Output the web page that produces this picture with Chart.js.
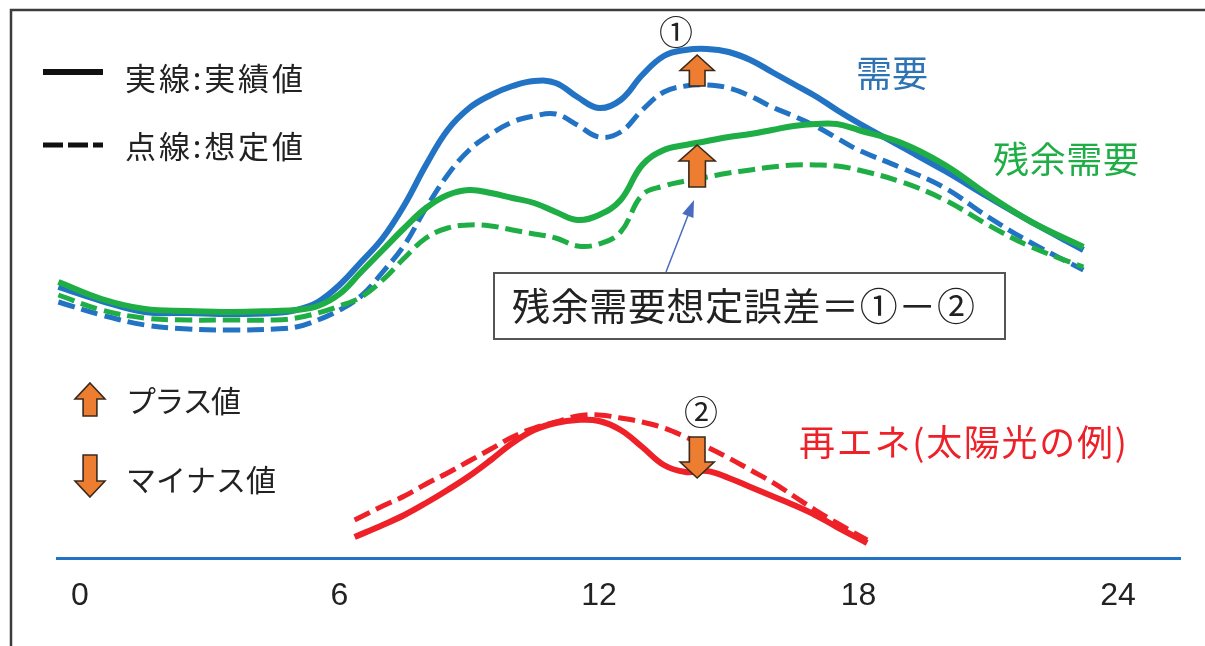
<!DOCTYPE html>
<html>
<head>
<meta charset="utf-8">
<script src="https://cdn.jsdelivr.net/npm/chart.js@4/dist/chart.umd.min.js"></script>
<style>
  html, body { margin: 0; padding: 0; background: #fff; }
  canvas { display: block; }
</style>
</head>
<body>
<canvas id="chart" width="1205" height="646"></canvas>
<script>
// hour of day (x) and relative load (y)
const demandHours = [-0.5, 0.5, 1.5, 2.5, 3.5, 4.5, 5, 5.5, 6, 6.5, 7, 7.5, 8, 8.5, 9, 9.5, 10, 10.5, 11, 11.5, 12, 12.5, 13, 13.5, 14, 14.5, 15, 15.5, 16, 16.5, 17, 17.5, 18, 19, 20, 21, 22, 23.2];
const demandActual = [271, 257, 246, 245, 244, 245, 248, 256, 273, 296, 320, 353, 393, 428, 450, 463, 472, 477, 475, 461, 450, 458, 483, 502, 508, 509, 506, 498, 486, 474, 462, 448, 435, 411, 387, 361, 336, 308];
const demandForecast = [256, 243, 233, 229, 228, 229, 231, 238, 248, 262, 286, 313, 350, 383, 408, 424, 436, 442, 444, 433, 421, 426, 448, 466, 472, 473, 470, 462, 451, 442, 432, 420, 408, 390, 370, 341, 315, 288];
const residualActual = [276, 259, 249, 247, 246, 247, 248, 252, 264, 286, 308, 330, 350, 363, 368, 365, 360, 355, 346, 338, 343, 358, 393, 408, 413, 417, 421, 424, 428, 432, 434, 434, 428, 415, 393, 363, 336, 311];
const residualForecast = [263, 248, 240, 238, 238, 238, 240, 245, 252, 261, 278, 300, 320, 330, 333, 332, 328, 324, 320, 312, 314, 326, 363, 372, 377, 381, 385, 388, 391, 393, 393, 392, 388, 376, 358, 333, 311, 291];

const solarHours = [6.35, 7, 7.5, 8, 8.5, 9, 9.5, 10, 10.5, 11, 11.5, 12, 12.5, 13, 13.5, 14, 14.5, 15, 15.5, 16, 16.5, 17, 17.5, 18.2];
const solarActual = [21, 33, 43, 55, 68, 82, 98, 115, 128, 135, 138, 137, 128, 111, 93, 86, 87, 80, 71, 62, 53, 43, 31, 15];
const solarForecast = [38, 52, 62, 74, 85, 97, 109, 121, 130, 136, 142, 143, 140, 136, 130, 121, 111, 100, 88, 76, 62, 48, 35, 18];

const xTickHours = [0, 6, 12, 18, 24];

// where the error arrows sit (hour, from value, to value)
const errorHour = 14.27;
const demandErr = [472, 503];
const residualErr = [371, 413];
const solarErr = [121, 80];

const BLUE = "#2273c4";
const GREEN = "#1fae45";
const RED = "#ee2129";
const ORANGE = "#ed7d31";
const JP = "'Noto Sans CJK JP', 'Noto Sans', sans-serif";

const pts = (xs, ys) => xs.map((x, i) => ({ x, y: ys[i] }));

function line(label, xs, ys, color, dashed, order) {
  return {
    label,
    data: pts(xs, ys),
    borderColor: color,
    borderWidth: dashed ? 5 : 6,
    borderDash: dashed ? [17, 7] : [],
    borderCapStyle: "butt",
    pointRadius: 0,
    tension: 0.4,
    fill: false,
    order,
  };
}

// orange block arrow, from yBase to yTip
function blockArrow(ctx, cx, yBase, yTip, w) {
  const dir = yTip < yBase ? 1 : -1;
  const head = Math.min(16, Math.abs(yBase - yTip) * 0.5);
  const sw = w * 0.46;
  const yNeck = yTip + dir * head;
  ctx.beginPath();
  ctx.moveTo(cx, yTip);
  ctx.lineTo(cx + w / 2, yNeck);
  ctx.lineTo(cx + sw / 2, yNeck);
  ctx.lineTo(cx + sw / 2, yBase);
  ctx.lineTo(cx - sw / 2, yBase);
  ctx.lineTo(cx - sw / 2, yNeck);
  ctx.lineTo(cx - w / 2, yNeck);
  ctx.closePath();
  ctx.fillStyle = ORANGE;
  ctx.fill();
  ctx.lineWidth = 1.6;
  ctx.strokeStyle = "#3b2a1c";
  ctx.lineJoin = "miter";
  ctx.stroke();
}

function text(ctx, str, x, y, size, color, width, align) {
  ctx.save();
  ctx.font = size + "px " + JP;
  ctx.fillStyle = color;
  ctx.textBaseline = "middle";
  ctx.textAlign = "left";
  if (width) {
    const w = ctx.measureText(str).width;
    const ls = (width - w) / Math.max(1, [...str].length - 1);
    ctx.letterSpacing = ls + "px";
  }
  const w2 = ctx.measureText(str).width;
  const left = align === "center" ? x - w2 / 2 : x;
  ctx.fillText(str, left, y);
  ctx.restore();
}

const decorations = {
  id: "decorations",
  beforeDraw(chart) {
    const ctx = chart.ctx;
    ctx.save();
    ctx.fillStyle = "#fff";
    ctx.fillRect(0, 0, chart.width, chart.height);
    ctx.restore();
  },
  afterDraw(chart) {
    const ctx = chart.ctx;
    const xs = chart.scales.x, ys = chart.scales.y;
    ctx.save();

    // outer frame
    ctx.strokeStyle = "#3c3c3c";
    ctx.lineWidth = 2.5;
    ctx.beginPath();
    ctx.moveTo(11, 646);
    ctx.lineTo(11, 10);
    ctx.lineTo(1205, 10);
    ctx.stroke();

    // legend lines
    ctx.strokeStyle = "#111";
    ctx.lineWidth = 6;
    ctx.beginPath();
    ctx.moveTo(43, 72); ctx.lineTo(103, 72);
    ctx.stroke();
    ctx.setLineDash([20, 5]);
    ctx.lineWidth = 5;
    ctx.beginPath();
    ctx.moveTo(43, 145); ctx.lineTo(103, 145);
    ctx.stroke();
    ctx.setLineDash([]);

    text(ctx, "実線:実績値", 125, 78, 31, "#222", 178);
    text(ctx, "点線:想定値", 125, 146, 31, "#222", 178);

    text(ctx, "需要", 856, 73, 36, "#2e74b5", 72);
    text(ctx, "残余需要", 993, 159, 36, GREEN, 146);
    text(ctx, "再エネ(太陽光の例)", 799, 442, 36, RED, 328);

    // bottom-left arrow legend
    blockArrow(ctx, 90, 416, 383, 30);
    text(ctx, "プラス値", 126, 401, 30, "#222", 115);
    blockArrow(ctx, 90, 455, 497, 30);
    text(ctx, "マイナス値", 126, 480, 30, "#222", 150);

    // error arrows
    const ax = xs.getPixelForValue(errorHour);
    blockArrow(ctx, ax, ys.getPixelForValue(demandErr[0]), ys.getPixelForValue(demandErr[1]), 34);
    blockArrow(ctx, ax, ys.getPixelForValue(residualErr[0]), ys.getPixelForValue(residualErr[1]), 36);
    blockArrow(ctx, ax, ys.getPixelForValue(solarErr[0]), ys.getPixelForValue(solarErr[1]), 34);
    text(ctx, "①", 676, 32, 34, "#222", 0, "center");
    text(ctx, "②", 701, 412, 34, "#222", 0, "center");

    // pointer from the box to the residual error
    const x0 = 666, y0 = 272, x1 = 694, y1 = 200;
    const ang = Math.atan2(y1 - y0, x1 - x0);
    ctx.strokeStyle = "#4a6cc0";
    ctx.fillStyle = "#4a6cc0";
    ctx.lineWidth = 1.5;
    ctx.beginPath();
    ctx.moveTo(x0, y0);
    ctx.lineTo(x1 - 14 * Math.cos(ang), y1 - 14 * Math.sin(ang));
    ctx.stroke();
    ctx.beginPath();
    ctx.moveTo(x1, y1);
    ctx.lineTo(x1 - 17 * Math.cos(ang) + 6 * Math.sin(ang), y1 - 17 * Math.sin(ang) - 6 * Math.cos(ang));
    ctx.lineTo(x1 - 17 * Math.cos(ang) - 6 * Math.sin(ang), y1 - 17 * Math.sin(ang) + 6 * Math.cos(ang));
    ctx.closePath();
    ctx.fill();

    // formula box
    ctx.fillStyle = "#fff";
    ctx.fillRect(494, 273, 511, 66);
    ctx.strokeStyle = "#555";
    ctx.lineWidth = 2;
    ctx.strokeRect(494, 273, 511, 66);
    text(ctx, "残余需要想定誤差＝①－②", 512, 306, 38, "#222", 463);

    ctx.restore();
  },
};

new Chart(document.getElementById("chart"), {
  type: "line",
  data: {
    datasets: [
      line("残余需要 実績", demandHours, residualActual, GREEN, false, 1),
      line("残余需要 想定", demandHours, residualForecast, GREEN, true, 1),
      line("需要 実績", demandHours, demandActual, BLUE, false, 2),
      line("需要 想定", demandHours, demandForecast, BLUE, true, 2),
      line("再エネ 実績", solarHours, solarActual, RED, false, 1),
      line("再エネ 想定", solarHours, solarForecast, RED, true, 1),
    ],
  },
  options: {
    responsive: false,
    animation: false,
    layout: { padding: { left: 57, right: 25, top: 0, bottom: 0 } },
    plugins: {
      legend: { display: false },
      tooltip: { enabled: false },
    },
    scales: {
      x: {
        type: "linear",
        min: -0.532,
        max: 25.434,
        afterBuildTicks: (scale) => {
          scale.ticks = xTickHours.map((v) => ({ value: v }));
        },
        afterFit: (scale) => {
          scale.height = 88;
        },
        grid: { display: false, drawTicks: false },
        border: { display: true, color: BLUE, width: 3 },
        ticks: {
          color: "#222",
          padding: 19,
          maxRotation: 0,
          autoSkip: false,
          font: { family: "'Liberation Sans', Arial, sans-serif", size: 32 },
        },
      },
      y: {
        type: "linear",
        display: false,
        min: 0,
        max: 558,
      },
    },
  },
  plugins: [decorations],
});
</script>
</body>
</html>
